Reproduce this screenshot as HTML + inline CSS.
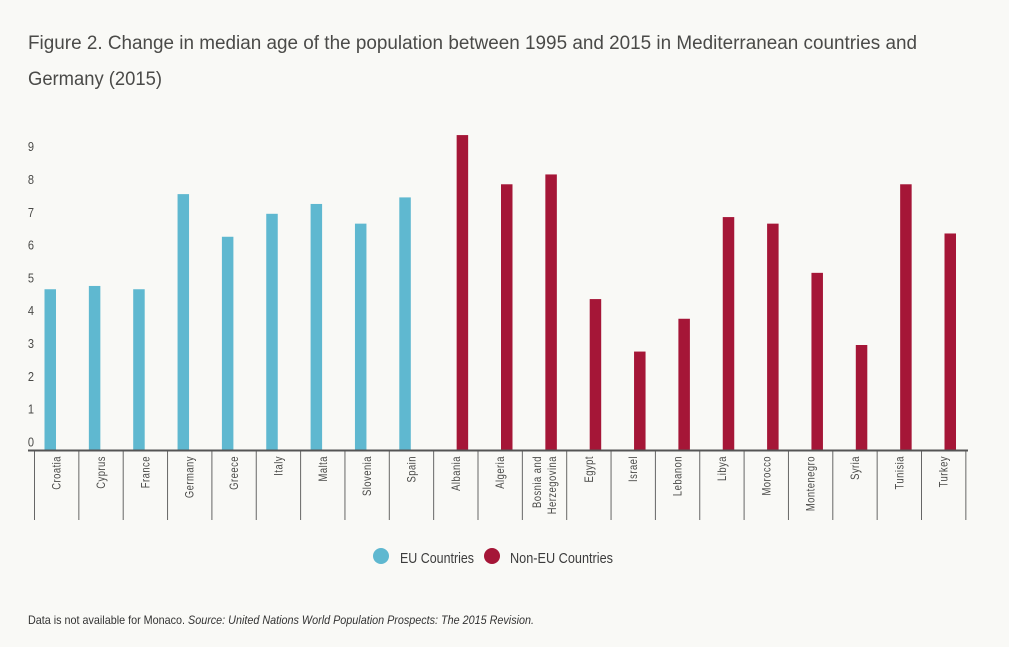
<!DOCTYPE html>
<html lang="en">
<head>
<meta charset="utf-8">
<title>Change in median age</title>
<style>
html,body{margin:0;padding:0;background:#f9f9f6;}
svg{display:block;font-family:"Liberation Sans",sans-serif;}
</style>
</head>
<body>
<svg id="chart" width="1009" height="647" viewBox="0 0 1009 647" xmlns="http://www.w3.org/2000/svg">
<rect x="0" y="0" width="1009" height="647" fill="#f9f9f6"/>
<text x="28" y="49" font-size="19" fill="#4a4a48" textLength="889" lengthAdjust="spacingAndGlyphs">Figure 2. Change in median age of the population between 1995 and 2015 in Mediterranean countries and</text>
<text x="28" y="85" font-size="19" fill="#4a4a48" textLength="134" lengthAdjust="spacingAndGlyphs">Germany (2015)</text>
<g id="plot"></g>
<g>
<g>
<circle cx="381" cy="556" r="8" fill="#5fb8d0"/>
<text x="400" y="563" font-size="15" fill="#3c3c3c" textLength="74" lengthAdjust="spacingAndGlyphs">EU Countries</text>
</g>
<g>
<circle cx="492" cy="556" r="8" fill="#a51637"/>
<text x="510" y="563" font-size="15" fill="#3c3c3c" textLength="103" lengthAdjust="spacingAndGlyphs">Non-EU Countries</text>
</g>
</g>
<text x="28" y="624" font-size="12" fill="#333" textLength="157" lengthAdjust="spacingAndGlyphs">Data is not available for Monaco.</text>
<text x="188" y="624" font-size="12" font-style="italic" fill="#333" textLength="346" lengthAdjust="spacingAndGlyphs">Source: United Nations World Population Prospects: The 2015 Revision.</text>
</svg>
<script>
const categories = [["Croatia"],["Cyprus"],["France"],["Germany"],["Greece"],["Italy"],["Malta"],["Slovenia"],["Spain"],["Albania"],["Algeria"],["Bosnia and","Herzegovina"],["Egypt"],["Israel"],["Lebanon"],["Libya"],["Morocco"],["Montenegro"],["Syria"],["Tunisia"],["Turkey"]];
const euValues = [4.7,4.8,4.7,7.6,6.3,7.0,7.3,6.7,7.5,null,null,null,null,null,null,null,null,null,null,null,null];
const nonEuValues = [null,null,null,null,null,null,null,null,null,9.4,7.9,8.2,4.4,2.8,3.8,6.9,6.7,5.2,3.0,7.9,6.4];
const yTicks = [0,1,2,3,4,5,6,7,8,9];

const NS = "http://www.w3.org/2000/svg";
const plot = document.getElementById("plot");
const x0 = 34.5, bandW = 44.35, baseY = 450, zeroY = 443.4, unit = 32.8, barW = 11.5;
const xBand = i => x0 + i * bandW;
const yVal = v => zeroY - v * unit;

function make(tag, attrs, text) {
  const el = document.createElementNS(NS, tag);
  for (const k in attrs) el.setAttribute(k, attrs[k]);
  if (text !== undefined) el.textContent = text;
  plot.appendChild(el);
  return el;
}

yTicks.forEach(t => {
  const y = yVal(t) + 3;
  const el = make("text", {transform: "translate(31," + y + ") scale(0.85,1)", "font-size": 13, fill: "#4a4a48", "text-anchor": "middle"}, String(t));
  
  
});

function drawBars(values, offset, color, name) {
  values.forEach((v, i) => {
    if (v === null) return;
    const top = yVal(v);
    const r = make("rect", {x: xBand(i) + offset, y: top, width: barW, height: baseY - top, fill: color});
    
    
  });
}
drawBars(euValues, 10, "#5fb8d0", "bar-eu");
drawBars(nonEuValues, 23, "#a51637", "bar-non-eu");

for (let i = 0; i <= categories.length; i++) {
  const x = xBand(i);
  const tick = make("line", {x1: x, x2: x, y1: baseY, y2: 520, stroke: "#666", "stroke-width": 1});
  
  
}

const axis = make("line", {x1: 28, x2: 968, y1: 450.5, y2: 450.5, stroke: "#555", "stroke-width": 2});



categories.forEach((lines, i) => {
  const cx = xBand(i) + bandW / 2;
  lines.forEach((line, j) => {
    const lx = cx + 4 + (j - (lines.length - 1) / 2) * 15;
    const el = make("text", {
      transform: "translate(" + lx + ",456) rotate(-90) scale(0.82,1)",
      "font-size": 11.5, fill: "#4a4a48", "text-anchor": "end", "letter-spacing": "0.6"
    }, line);
    
    
  });
});
</script>
</body>
</html>
